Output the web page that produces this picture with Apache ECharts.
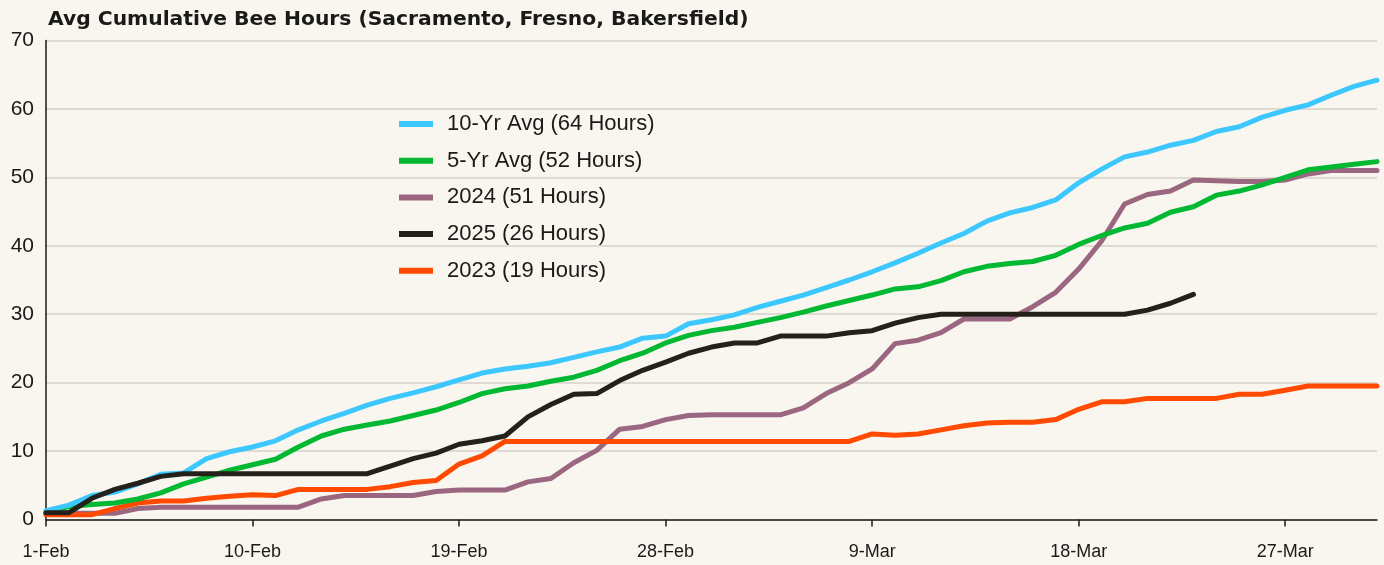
<!DOCTYPE html>
<html>
<head>
<meta charset="utf-8">
<script src="https://cdn.jsdelivr.net/npm/echarts@6/dist/echarts.min.js"></script>
<style>
  html, body { margin: 0; padding: 0; background: #f9f5ef; }
  #chart { width: 1384px; height: 565px; }
</style>
</head>
<body>
<div id="chart"></div>
<script>
const days = [
  '1-Feb','2-Feb','3-Feb','4-Feb','5-Feb','6-Feb','7-Feb','8-Feb','9-Feb','10-Feb',
  '11-Feb','12-Feb','13-Feb','14-Feb','15-Feb','16-Feb','17-Feb','18-Feb','19-Feb','20-Feb',
  '21-Feb','22-Feb','23-Feb','24-Feb','25-Feb','26-Feb','27-Feb','28-Feb','1-Mar','2-Mar',
  '3-Mar','4-Mar','5-Mar','6-Mar','7-Mar','8-Mar','9-Mar','10-Mar','11-Mar','12-Mar',
  '13-Mar','14-Mar','15-Mar','16-Mar','17-Mar','18-Mar','19-Mar','20-Mar','21-Mar','22-Mar',
  '23-Mar','24-Mar','25-Mar','26-Mar','27-Mar','28-Mar','29-Mar','30-Mar','31-Mar'
]

const tenYrAvg = [
  1.3, 2.1, 3.5, 4.0, 5.2, 6.6, 6.8, 8.9, 9.9, 10.6,
  11.5, 13.1, 14.4, 15.5, 16.7, 17.7, 18.5, 19.4, 20.4, 21.4,
  22.0, 22.4, 22.9, 23.7, 24.5, 25.2, 26.5, 26.8, 28.6, 29.2,
  29.9, 31.0, 31.9, 32.8, 33.9, 35.0, 36.2, 37.5, 38.9, 40.4,
  41.8, 43.6, 44.8, 45.6, 46.7, 49.2, 51.2, 53.0, 53.7, 54.7,
  55.4, 56.7, 57.4, 58.8, 59.8, 60.6, 62.0, 63.3, 64.2
]
const fiveYrAvg = [
  1.0, 1.9, 2.2, 2.4, 3.0, 3.9, 5.2, 6.2, 7.2, 8.0,
  8.8, 10.6, 12.2, 13.2, 13.8, 14.4, 15.2, 16.0, 17.1, 18.4,
  19.1, 19.5, 20.2, 20.8, 21.8, 23.2, 24.3, 25.8, 26.9, 27.6,
  28.1, 28.8, 29.5, 30.3, 31.2, 32.0, 32.8, 33.7, 34.0, 34.9,
  36.2, 37.0, 37.4, 37.7, 38.6, 40.2, 41.5, 42.6, 43.3, 44.9,
  45.7, 47.4, 48.0, 48.9, 50.0, 51.1, 51.5, 51.9, 52.3
]
const y2024 = [
  0.9, 0.9, 0.9, 0.9, 1.6, 1.8, 1.8, 1.8, 1.8, 1.8,
  1.8, 1.8, 3.0, 3.5, 3.5, 3.5, 3.5, 4.1, 4.3, 4.3,
  4.3, 5.5, 6.0, 8.3, 10.1, 13.2, 13.6, 14.6, 15.2, 15.3,
  15.3, 15.3, 15.3, 16.3, 18.4, 20.0, 22.0, 25.7, 26.2, 27.3,
  29.3, 29.3, 29.3, 31.1, 33.2, 36.6, 40.7, 46.1, 47.5, 48.0,
  49.6, 49.5, 49.4, 49.4, 49.6, 50.5, 51.0, 51.0, 51.0
]
const y2025 = [
  1.0, 1.0, 3.1, 4.4, 5.3, 6.3, 6.7, 6.7, 6.7, 6.7,
  6.7, 6.7, 6.7, 6.7, 6.7, 7.8, 8.9, 9.7, 11.0, 11.5,
  12.2, 15.0, 16.8, 18.3, 18.4, 20.3, 21.8, 23.0, 24.3, 25.2,
  25.8, 25.8, 26.8, 26.8, 26.8, 27.3, 27.6, 28.7, 29.5, 30.0,
  30.0, 30.0, 30.0, 30.0, 30.0, 30.0, 30.0, 30.0, 30.6, 31.6,
  32.9, null, null, null, null, null, null, null, null
]
const y2023 = [
  0.7, 0.7, 0.7, 1.6, 2.4, 2.7, 2.7, 3.1, 3.4, 3.6,
  3.5, 4.4, 4.4, 4.4, 4.4, 4.8, 5.4, 5.7, 8.1, 9.3,
  11.4, 11.4, 11.4, 11.4, 11.4, 11.4, 11.4, 11.4, 11.4, 11.4,
  11.4, 11.4, 11.4, 11.4, 11.4, 11.4, 12.5, 12.3, 12.5, 13.1,
  13.7, 14.1, 14.2, 14.2, 14.6, 16.1, 17.2, 17.2, 17.7, 17.7,
  17.7, 17.7, 18.3, 18.3, 18.9, 19.5, 19.5, 19.5, 19.5
]

const legendOrder = ['10-Yr Avg (64 Hours)', '5-Yr Avg (52 Hours)', '2024 (51 Hours)', '2025 (26 Hours)', '2023 (19 Hours)']

const textFont = '"Liberation Sans", Arial, sans-serif'

function line(name, data, color){
  return {
    name: name,
    type: 'line',
    data: data,
    showSymbol: false,
    symbol: 'none',
    connectNulls: false,
    lineStyle: { width: 5, color: color, cap: 'round', join: 'round' },
    itemStyle: { color: color },
    emphasis: { disabled: true }
  }
}

const option = {
  backgroundColor: '#f9f5ef',
  animation: false,
  graphic: [{
    type: 'text',
    left: 48,
    top: 10,
    style: {
      text: 'Avg Cumulative Bee Hours (Sacramento, Fresno, Bakersfield)',
      font: 'bold 20.3px "DejaVu Sans", sans-serif',
      fill: '#1a1a18'
    }
  }],
  legend: {
    data: legendOrder,
    orient: 'vertical',
    left: 394,
    top: 108,
    icon: 'rect',
    itemWidth: 34,
    itemHeight: 6,
    itemGap: 14.7,
    textStyle: { fontFamily: textFont, fontSize: 22, color: '#1a1a18', lineHeight: 22, padding: [0, 0, 0, 9] }
  },
  grid: { left: 46, right: 7, top: 40.5, bottom: 45.5 },
  xAxis: {
    type: 'category',
    data: days,
    boundaryGap: false,
    axisLine: { lineStyle: { color: '#1a1a18', width: 1.5 } },
    axisTick: { interval: 8, length: 7, lineStyle: { color: '#1a1a18', width: 1.5 } },
    axisLabel: { interval: 8, margin: 24, fontFamily: textFont, fontSize: 18, color: '#1a1a18' },
    splitLine: { show: false }
  },
  yAxis: {
    type: 'value',
    min: 0,
    max: 70,
    interval: 10,
    axisLine: { show: true, lineStyle: { color: '#1a1a18', width: 1.5 } },
    axisTick: { show: false },
    axisLabel: { margin: 12, fontFamily: textFont, fontSize: 21, color: '#1a1a18' },
    splitLine: { lineStyle: { color: '#d6d0c8', width: 1.5 } }
  },
  series: [
    line('2024 (51 Hours)', y2024, '#9a6680'),
    line('2023 (19 Hours)', y2023, '#ff4a00'),
    line('5-Yr Avg (52 Hours)', fiveYrAvg, '#00b832'),
    line('10-Yr Avg (64 Hours)', tenYrAvg, '#3cc8ff'),
    line('2025 (26 Hours)', y2025, '#24211b')
  ]
}

echarts.init(document.getElementById('chart')).setOption(option)
</script>
</body>
</html>
